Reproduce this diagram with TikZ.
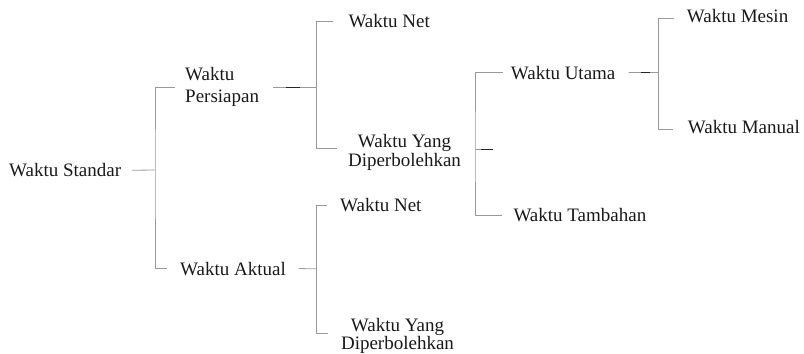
\documentclass[tikz,border=0pt]{standalone}
\usepackage{fontspec}
\setmainfont{Liberation Serif}
\newfontfamily\lblfont{Liberation Serif}
\begin{document}
\begin{tikzpicture}[x=1bp,y=-1bp,
    lbl/.style={inner sep=0pt,text=black!90,font=\lblfont\fontsize{19bp}{18.5bp}\selectfont},
    link/.style={draw=black!40,line width=0.8bp},
    tick/.style={draw=black!85,line width=0.8bp}]
            \useasboundingbox (0,0) rectangle (804,353);
            \node[lbl,anchor=base west] (std) at (9,176.7) {Waktu Standar};
            \node[lbl,anchor=west,align=left] (pers) at (185,87) {Waktu\\[3bp]Persiapan};
            \node[lbl,anchor=base west] (akt) at (180,275) {Waktu Aktual};
            \node[lbl,anchor=base west] (net1) at (348.3,27.7) {Waktu Net};
            \node[lbl,align=center] (yang1) at (404.5,152.4) {Waktu Yang\\Diperbolehkan};
            \node[lbl,anchor=base west] (net2) at (340,211.7) {Waktu Net};
            \node[lbl,align=center] (yang2) at (397.5,336) {Waktu Yang\\Diperbolehkan};
            \node[lbl,anchor=base west] (utama) at (510.7,79) {Waktu Utama};
            \node[lbl,anchor=base west] (tambah) at (513.3,221.7) {Waktu Tambahan};
            \node[lbl,anchor=base west] (mesin) at (686.7,22.3) {Waktu Mesin};
            \node[lbl,anchor=base west] (manual) at (687.7,133.3) {Waktu Manual};

            \coordinate (j1) at (155,170);
            \coordinate (j2) at (316.5,87);
            \coordinate (j3) at (475,149.3);
            \coordinate (j3s) at (493,149.3);
            \coordinate (j4) at (658.3,72.5);
            \coordinate (j5) at (316.5,268.8);

            \draw[link] ([xshift=10.5bp]std.east) -- (j1);
            \draw[link] ([xshift=-10bp]pers.west) -| (j1) |- ([xshift=-13bp]akt.west);

            \draw[link] ([xshift=14bp]pers.east) -- (j2);
            \draw[tick] ([xshift=27bp]pers.east) -- ++(14,0);
            \draw[link] ([xshift=-15bp]net1.west) -| (j2) |- ([xshift=-11bp,yshift=4.5bp]yang1.west);

            \draw[link] ([xshift=13bp]akt.east) -- (j5);
            \draw[link] ([xshift=-13.3bp]net2.west) -| (j5) |- ([xshift=-12.7bp,yshift=2.7bp]yang2.west);

            \draw[link] (j3) -- (j3s);
            \draw[tick] ([xshift=6bp]j3) -- (j3s);
            \draw[link] ([xshift=-8bp]utama.west) -| (j3) |- ([xshift=-11.5bp]tambah.west);

            \draw[link] ([xshift=13bp]utama.east) -- (j4);
            \draw[tick] ([xshift=25bp]utama.east) -- ++(9,0);
            \draw[link] ([xshift=-12.7bp,yshift=-2.5bp]mesin.west) -| (j4) |- ([xshift=-14.4bp,yshift=-2.5bp]manual.west);
        \end{tikzpicture}
\end{document}
